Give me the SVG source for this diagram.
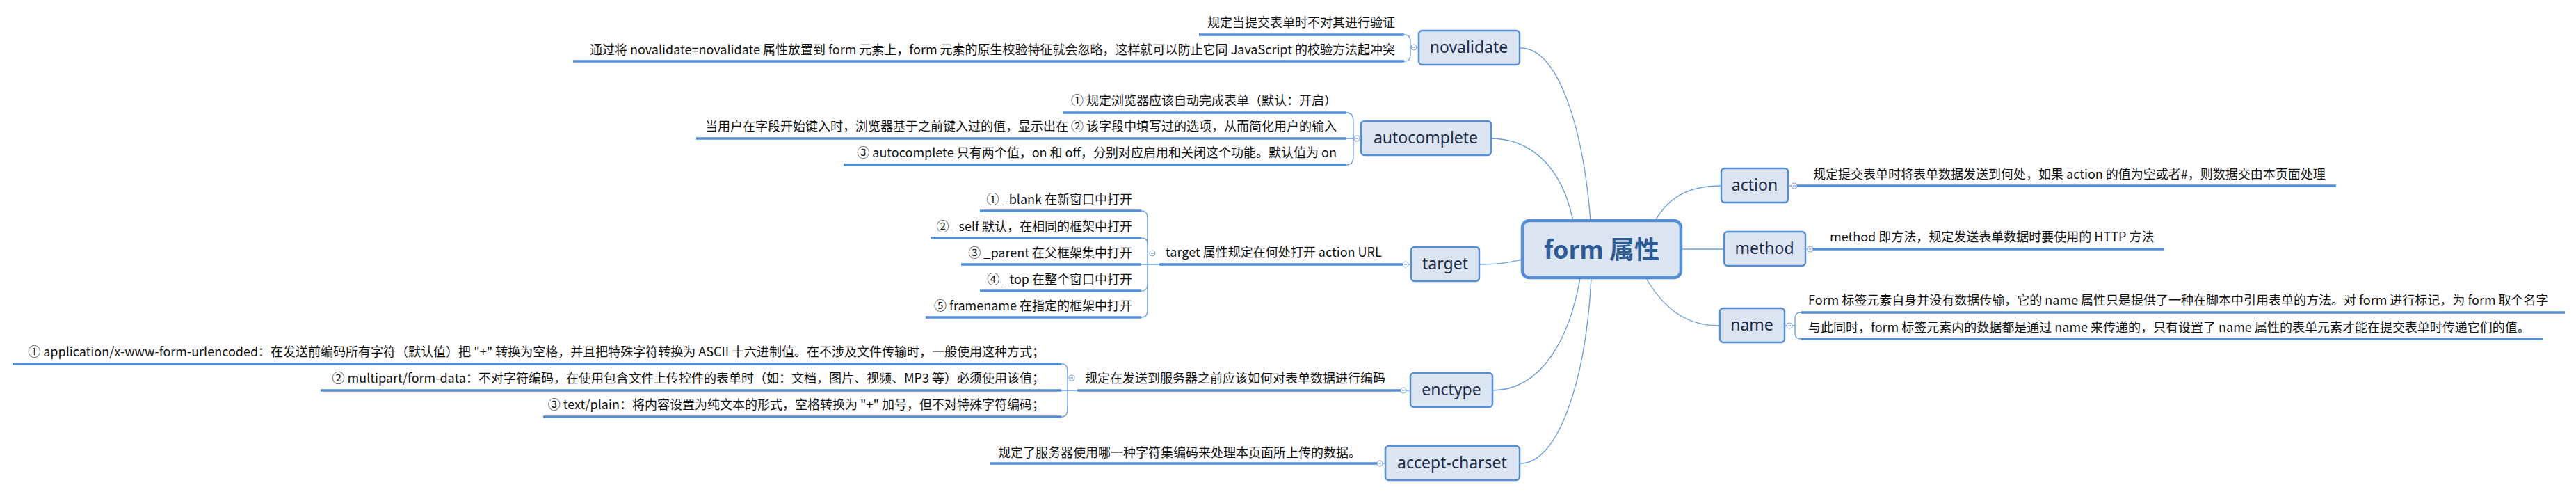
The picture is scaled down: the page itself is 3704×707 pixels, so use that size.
<svg xmlns="http://www.w3.org/2000/svg" width="3704" height="707" viewBox="0 0 3704 707">
<style>
.bg{fill:#ffffff}
.box{fill:#dbe5f1;stroke:#558ed5;stroke-width:2.5}
.root{fill:#dbe5f1;stroke:#558ed5;stroke-width:4.5}
.nt{font-family:"Noto Sans","Noto Sans CJK SC",sans-serif;font-size:23px;fill:#1b2a48;text-anchor:middle}
.rt{font-family:"Noto Sans CJK SC","Noto Sans",sans-serif;font-size:36px;font-weight:bold;fill:#2e5b94;text-anchor:middle}
.lt{font-family:"Noto Sans CJK SC","Noto Sans",sans-serif;font-size:18px;fill:#111111}
.le{text-anchor:end}
.ul{stroke:#558ed5;stroke-width:3.5;fill:none}
.cn{stroke:#6f9fdc;stroke-width:1.4;fill:none}
.cc{fill:#ffffff;stroke:#7fa6dc;stroke-width:1.2}
.cm{stroke:#7fa6dc;stroke-width:1.2}
</style>
<rect class="bg" x="0" y="0" width="3704" height="707"/>

<g id="connectors">
  <path class="cn" d="M2186,69 C2240,69 2276,180 2287,317"/>
  <path class="cn" d="M2143,199 C2195,199 2244,232 2262,317"/>
  <path class="cn" d="M2127,380 C2160,380 2172,376 2189,373"/>
  <path class="cn" d="M2272,400 C2258,480 2220,561 2145,561"/>
  <path class="cn" d="M2288,400 C2280,550 2240,666 2186,666"/>
  <path class="cn" d="M2380,317 C2400,282 2430,267 2474,267"/>
  <path class="cn" d="M2417,358 L2478,358"/>
  <path class="cn" d="M2367,400 C2392,442 2422,468 2473,468"/>
</g>

<g id="root">
  <rect class="root" x="2189" y="317" width="228" height="82" rx="10"/>
  <text class="rt" x="2303" y="372">form 属性</text>
</g>

<g id="novalidate">
  <rect class="box" x="2040" y="44" width="145" height="49" rx="5"/>
  <text class="nt" x="2112" y="76">novalidate</text>
  <line class="cn" x1="2037" y1="68" x2="2040" y2="68"/>
  <path class="cn" d="M2019,50 C2028,50 2028,56 2028,62 L2028,68 L2028,76 C2028,82 2028,88 2019,88 M2028,68 L2029,68"/>
  <circle class="cc" cx="2033" cy="68" r="4"/><line class="cm" x1="2031" y1="68" x2="2035" y2="68"/>
</g>
<g id="novalidate-1">
  <text class="lt le" x="2006" y="39">规定当提交表单时不对其进行验证</text>
  <line class="ul" x1="1724" y1="50" x2="2019" y2="50"/>
</g>
<g id="novalidate-2">
  <text class="lt le" x="2006" y="78">通过将 novalidate=novalidate 属性放置到 form 元素上，form 元素的原生校验特征就会忽略，这样就可以防止它同 JavaScript 的校验方法起冲突</text>
  <line class="ul" x1="824" y1="88" x2="2019" y2="88"/>
</g>

<g id="autocomplete">
  <rect class="box" x="1957" y="174" width="187" height="49" rx="5"/>
  <text class="nt" x="2050" y="206">autocomplete</text>
  <line class="cn" x1="1955" y1="199" x2="1957" y2="199"/>
  <path class="cn" d="M1936,162 C1946,162 1946,170 1946,178 L1946,221 C1946,229 1946,237 1936,237 M1936,199 L1947,199"/>
  <circle class="cc" cx="1951" cy="199" r="4"/><line class="cm" x1="1949" y1="199" x2="1953" y2="199"/>
</g>
<g id="autocomplete-1">
  <text class="lt le" x="1922" y="151">① 规定浏览器应该自动完成表单（默认：开启）</text>
  <line class="ul" x1="1528" y1="162" x2="1936" y2="162"/>
</g>
<g id="autocomplete-2">
  <text class="lt le" x="1922" y="188">当用户在字段开始键入时，浏览器基于之前键入过的值，显示出在 ② 该字段中填写过的选项，从而简化用户的输入</text>
  <line class="ul" x1="1001" y1="199" x2="1936" y2="199"/>
</g>
<g id="autocomplete-3">
  <text class="lt le" x="1922" y="226">③ autocomplete 只有两个值，on 和 off，分别对应启用和关闭这个功能。默认值为 on</text>
  <line class="ul" x1="1213" y1="237" x2="1936" y2="237"/>
</g>

<g id="target">
  <rect class="box" x="2029" y="355" width="98" height="49" rx="5"/>
  <text class="nt" x="2078" y="387">target</text>
  <line class="cn" x1="2025" y1="380" x2="2029" y2="380"/>
  <circle class="cc" cx="2021" cy="380" r="4"/><line class="cm" x1="2019" y1="380" x2="2023" y2="380"/>
</g>
<g id="target-main">
  <text class="lt" x="1676" y="369">target 属性规定在何处打开 action URL</text>
  <line class="ul" x1="1667" y1="380" x2="2017" y2="380"/>
  <circle class="cc" cx="1657" cy="364" r="4"/><line class="cm" x1="1655" y1="364" x2="1659" y2="364"/>
  <path class="cn" d="M1641,303 C1650,303 1650,310 1650,318 L1650,441 C1650,449 1650,456 1641,456 M1641,342 C1650,342 1650,348 1650,354 M1641,418 C1650,418 1650,412 1650,406 M1641,380 L1667,380"/>
</g>
<g id="target-1">
  <text class="lt le" x="1628" y="293">① _blank 在新窗口中打开</text>
  <line class="ul" x1="1409" y1="303" x2="1641" y2="303"/>
</g>
<g id="target-2">
  <text class="lt le" x="1628" y="332">② _self 默认，在相同的框架中打开</text>
  <line class="ul" x1="1338" y1="342" x2="1641" y2="342"/>
</g>
<g id="target-3">
  <text class="lt le" x="1628" y="370">③ _parent 在父框架集中打开</text>
  <line class="ul" x1="1382" y1="380" x2="1641" y2="380"/>
</g>
<g id="target-4">
  <text class="lt le" x="1628" y="408">④ _top 在整个窗口中打开</text>
  <line class="ul" x1="1409" y1="418" x2="1641" y2="418"/>
</g>
<g id="target-5">
  <text class="lt le" x="1628" y="446">⑤ framename 在指定的框架中打开</text>
  <line class="ul" x1="1331" y1="456" x2="1641" y2="456"/>
</g>

<g id="enctype">
  <rect class="box" x="2028" y="536" width="118" height="49" rx="5"/>
  <text class="nt" x="2087" y="568">enctype</text>
  <line class="cn" x1="2022" y1="561" x2="2028" y2="561"/>
  <circle class="cc" cx="2018" cy="561" r="4"/><line class="cm" x1="2016" y1="561" x2="2020" y2="561"/>
</g>
<g id="enctype-main">
  <text class="lt" x="1560" y="550">规定在发送到服务器之前应该如何对表单数据进行编码</text>
  <line class="ul" x1="1549" y1="561" x2="2014" y2="561"/>
  <circle class="cc" cx="1541" cy="543" r="4"/><line class="cm" x1="1539" y1="543" x2="1543" y2="543"/>
  <path class="cn" d="M1526,523 C1535,523 1535,530 1535,538 L1535,584 C1535,592 1535,599 1526,599 M1526,561 L1549,561"/>
</g>
<g id="enctype-1">
  <text class="lt le" x="1502" y="512">① application/x-www-form-urlencoded：在发送前编码所有字符（默认值）把 "+" 转换为空格，并且把特殊字符转换为 ASCII 十六进制值。在不涉及文件传输时，一般使用这种方式；</text>
  <line class="ul" x1="18" y1="523" x2="1526" y2="523"/>
</g>
<g id="enctype-2">
  <text class="lt le" x="1502" y="550">② multipart/form-data：不对字符编码，在使用包含文件上传控件的表单时（如：文档，图片、视频、MP3 等）必须使用该值；</text>
  <line class="ul" x1="461" y1="561" x2="1526" y2="561"/>
</g>
<g id="enctype-3">
  <text class="lt le" x="1502" y="588">③ text/plain：将内容设置为纯文本的形式，空格转换为 "+" 加号，但不对特殊字符编码；</text>
  <line class="ul" x1="781" y1="599" x2="1526" y2="599"/>
</g>

<g id="accept-charset">
  <rect class="box" x="1992" y="641" width="193" height="49" rx="5"/>
  <text class="nt" x="2088" y="673">accept-charset</text>
  <line class="cn" x1="1988" y1="666" x2="1992" y2="666"/>
  <circle class="cc" cx="1984" cy="666" r="4"/><line class="cm" x1="1982" y1="666" x2="1986" y2="666"/>
</g>
<g id="accept-charset-1">
  <text class="lt" x="1435" y="657">规定了服务器使用哪一种字符集编码来处理本页面所上传的数据。</text>
  <line class="ul" x1="1424" y1="666" x2="1980" y2="666"/>
</g>

<g id="action">
  <rect class="box" x="2475" y="242" width="96" height="49" rx="5"/>
  <text class="nt" x="2523" y="274">action</text>
  <line class="cn" x1="2571" y1="267" x2="2576" y2="267"/>
  <circle class="cc" cx="2580" cy="267" r="4"/><line class="cm" x1="2578" y1="267" x2="2582" y2="267"/>
</g>
<g id="action-1">
  <text class="lt" x="2607" y="257">规定提交表单时将表单数据发送到何处，如果 action 的值为空或者#，则数据交由本页面处理</text>
  <line class="ul" x1="2584" y1="267" x2="3359" y2="267"/>
</g>

<g id="method">
  <rect class="box" x="2479" y="333" width="117" height="49" rx="5"/>
  <text class="nt" x="2537" y="365">method</text>
  <line class="cn" x1="2596" y1="358" x2="2599" y2="358"/>
  <circle class="cc" cx="2603" cy="358" r="4"/><line class="cm" x1="2601" y1="358" x2="2605" y2="358"/>
</g>
<g id="method-1">
  <text class="lt" x="2631" y="347">method 即方法，规定发送表单数据时要使用的 HTTP 方法</text>
  <line class="ul" x1="2607" y1="358" x2="3112" y2="358"/>
</g>

<g id="name">
  <rect class="box" x="2473" y="443" width="93" height="49" rx="5"/>
  <text class="nt" x="2519" y="475">name</text>
  <line class="cn" x1="2566" y1="468" x2="2569" y2="468"/>
  <circle class="cc" cx="2573" cy="468" r="4"/><line class="cm" x1="2571" y1="468" x2="2575" y2="468"/>
  <path class="cn" d="M2590,449 C2581,449 2581,455 2581,461 L2581,475 C2581,481 2581,487 2590,487 M2577,468 L2581,468"/>
</g>
<g id="name-1">
  <text class="lt" x="2600" y="438">Form 标签元素自身并没有数据传输，它的 name 属性只是提供了一种在脚本中引用表单的方法。对 form 进行标记，为 form 取个名字</text>
  <line class="ul" x1="2590" y1="449" x2="3688" y2="449"/>
</g>
<g id="name-2">
  <text class="lt" x="2600" y="477">与此同时，form 标签元素内的数据都是通过 name 来传递的，只有设置了 name 属性的表单元素才能在提交表单时传递它们的值。</text>
  <line class="ul" x1="2590" y1="487" x2="3656" y2="487"/>
</g>
</svg>
